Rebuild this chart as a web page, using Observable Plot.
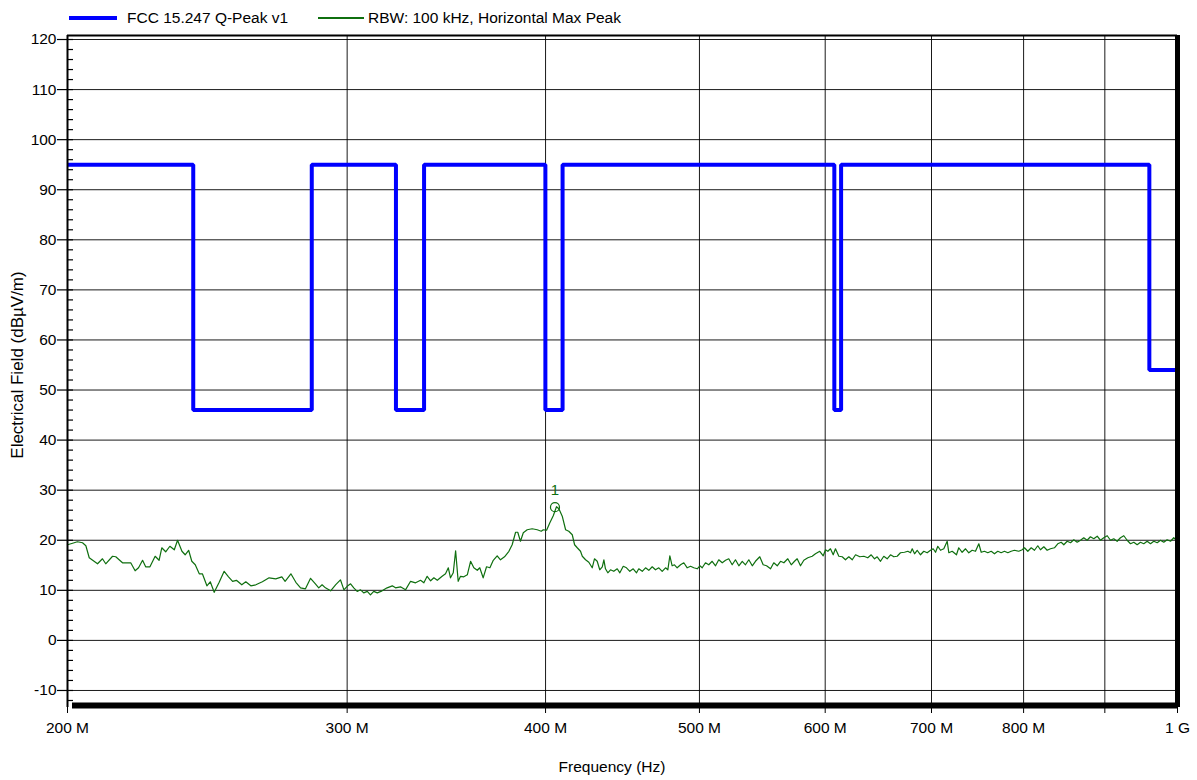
<!DOCTYPE html>
<html>
<head>
<meta charset="utf-8">
<script src="https://cdn.jsdelivr.net/npm/d3@7"></script>
<script src="https://cdn.jsdelivr.net/npm/@observablehq/plot@0.6"></script>
<style>
  body { margin: 0; background: #fff; }
  #wrap { position: relative; width: 1197px; height: 780px; font-family: "Liberation Sans", Arial, sans-serif; color: #000; }
  #chart { position: absolute; left: 0; top: 0; }
  .lg-line { position: absolute; }
  .lg-text { position: absolute; font-size: 15.5px; line-height: 18px; white-space: nowrap; }
  .title { position: absolute; white-space: nowrap; transform: translate(-50%, -50%); }
</style>
</head>
<body>
<div id="wrap">
  <div id="chart"></div>
</div>
<script>
// ---------- data ----------
const legendLabels = ["FCC 15.247 Q-Peak v1", "RBW: 100 kHz, Horizontal Max Peak"];
const xTitle = "Frequency (Hz)";
const yTitle = "Electrical Field (dBµV/m)";

const xTickValues = [200e6, 300e6, 400e6, 500e6, 600e6, 700e6, 800e6, 900e6, 1e9];
const xTickLabels = ["200 M", "300 M", "400 M", "500 M", "600 M", "700 M", "800 M", "", "1 G"];
const yTickValues = [-10, 0, 10, 20, 30, 40, 50, 60, 70, 80, 90, 100, 110, 120];
const yMinorTicks = d3.range(-12, 121, 2);
const xDomain = [200e6, 1e9];
const yDomain = [-13.4, 120.8];

// FCC limit (step after each break, MHz)
const limitFreqMHz = [200, 240, 285, 322, 335.4, 399.9, 410, 608, 614, 960, 1000];
const limitLevel   = [95,  46,  95,  46,  95,    46,    95,  46,  95,  54,  54];

// Measured trace (MHz, dBµV/m)
const traceFreqMHz = [200,201,202.9,204.4,205.4,206.4,208.9,210.4,211.4,213.5,214.5,216.6,219.2,220.6,221.7,223.0,224.0,225.4,227.1,228.4,229.3,230.6,232.0,233.5,234.6,236.1,237.2,238.4,239.5,240.7,242.1,243.2,244.8,246.0,247.4,249.2,251.0,252.6,254.1,255.5,257.5,259.0,260.9,262.8,265.3,267.9,270.5,272.9,274.2,276.5,278.5,280.4,282.4,284.5,286.5,287.9,289.3,290.7,292.9,295.0,297.1,298.6,300.0,301.5,302.9,304.4,305.9,307.3,308.9,310.3,311.8,313.4,315.6,317.9,320.3,321.8,324.1,326.5,328.9,331.3,333.7,335.3,336.9,338.6,340.2,341.9,344.3,346.0,347.4,348.5,349.9,351.1,352.4,353.6,355.3,357.1,358.8,360.5,362.3,363.6,365.4,367.2,369.0,370.8,372.9,374.7,376.9,379.3,381.1,383.0,384.2,385.7,387.3,389.5,392.3,395.2,397.5,398.7,400.6,402.5,404.5,406.4,407.8,409.8,411.8,413.7,415.8,417.2,418.8,420.8,421.9,423.9,425.9,428.0,429.4,431.1,432.7,434.3,435.3,436.3,437.8,439.5,441.6,443.8,445.5,447.7,449.8,452.0,454.2,456.4,457.9,460.2,462.4,464.6,466.9,469.1,471.4,473.7,476.0,477.6,479.0,480.6,482.2,484.1,486.5,488.8,491.2,493.6,495.9,498.4,500.3,502.0,504.4,506.8,509.3,511.8,514.2,516.8,519.3,521.7,524.3,526.8,529.4,532.0,534.5,537.1,539.8,542.3,545.7,548.4,551.1,554.3,556.9,559.7,562.4,565.1,568.3,571.2,573.9,576.1,578.9,581.7,585.1,588.8,591.6,595.3,598.3,600.3,602.3,604.6,607.0,609.0,612.0,615.0,617.9,620.9,624.0,627.0,630.9,634.6,638.2,641.4,644.5,647.0,650.1,653.2,656.4,659.6,662.8,666.0,669.2,673.1,676.4,679.0,680.7,683.0,685.6,688.9,692.2,695.6,699.0,701.7,704.1,706.4,709.2,712.6,716.1,717.8,721.3,725.8,728.2,731.8,735.4,738.9,742.5,746.1,749.7,752.3,755.9,759.5,763.3,766.9,770.6,774.4,778.1,781.9,785.7,789.5,794.4,798.4,801.0,804.9,808.9,812.7,816.6,819.8,823.8,827.8,831.8,836.6,840.6,844.8,848.0,852.2,856.3,860.4,864.6,868.8,872.9,877.2,881.4,885.7,890.1,894.3,898.6,903.1,907.4,911.7,916.2,920.6,925.1,929.6,934.1,938.6,943.2,947.7,952.3,957.0,961.6,966.2,971.0,975.6,980.3,985.1,989.9,994.6,998.5,1000];
const traceLevel = [19.1,19.3,19.7,19.5,18.9,16.5,15.3,16.3,15.3,16.8,16.7,15.5,15.5,13.9,14.5,16.0,14.7,14.7,16.8,16.0,18.5,17.7,18.8,18.1,20.0,17.8,17.1,18.0,15.8,15.1,13.3,13.3,10.9,11.7,9.6,11.6,13.8,12.7,11.8,12.0,11.1,11.7,10.9,11.1,11.7,12.5,12.3,12.7,11.8,13.3,11.6,10.5,10.3,12.4,11.3,10.5,11.1,10.5,9.9,11.1,12.1,10.1,10.8,11.3,10.5,9.8,10.1,9.5,9.8,9.1,9.8,9.5,9.9,10.5,10.9,10.5,10.7,10.1,11.8,11.5,12.0,11.5,12.8,11.9,12.5,12.0,12.8,13.3,14.5,12.5,13.5,17.9,11.8,12.8,12.7,13.1,15.8,14.5,14.0,14.5,12.5,14.7,14.5,16.0,16.9,16.1,16.7,17.8,19.1,21.6,21.6,19.8,21.5,22.1,22.3,22.1,21.8,22.1,22.0,23.5,24.9,26.7,26.3,24.8,22.1,21.8,21.1,19.1,18.5,17.8,16.8,16.1,15.6,14.5,16.3,15.8,14.1,14.7,16.1,14.3,13.5,14.1,13.8,14.3,13.5,14.8,14.5,13.8,14.3,13.5,14.3,13.8,14.5,14.0,14.7,14.1,14.5,13.8,14.5,14.1,16.9,14.9,15.1,14.5,15.1,15.5,14.5,14.8,14.5,14.3,14.9,14.5,15.5,15.1,15.8,14.9,16.1,15.5,16.0,16.3,15.1,16.1,14.9,15.8,15.1,16.1,14.9,15.8,16.7,15.1,14.9,14.3,15.5,14.9,15.8,15.5,16.3,15.1,15.8,16.3,14.9,16.0,16.5,16.8,17.3,17.8,16.9,18.1,17.8,18.3,17.1,18.3,16.8,16.7,16.1,16.7,16.1,17.1,16.7,16.8,16.5,17.1,16.3,16.7,15.8,16.8,16.3,17.1,16.7,16.8,17.5,17.6,17.8,17.5,18.3,17.3,18.0,17.1,17.8,17.5,18.0,18.3,17.6,18.8,18.0,18.3,19.8,17.5,17.8,17.1,18.5,17.6,18.3,17.5,18.0,17.8,19.3,17.6,17.8,17.5,17.8,17.3,17.8,17.5,17.8,17.5,17.8,18.0,17.8,18.1,18.5,17.8,18.5,18.0,18.9,18.1,18.7,18.0,18.3,18.5,19.3,19.6,19.1,19.8,19.5,20.1,19.6,20.0,20.5,20.0,20.7,20.3,20.8,20.0,20.5,20.9,20.0,20.3,19.8,20.5,20.9,20.0,19.3,19.6,19.1,19.6,19.3,19.8,19.3,19.8,19.5,20.0,19.6,20.1,19.8,20.5,20.0,20.0];

// Peak marker
const markerFreqMHz = [405.5];
const markerLevel = [26.6];
const markerLabel = ["1"];

// ---------- styles ----------
const blue = "#0000ff";
const green = "#0f6f0f";
const fontFamily = "'Liberation Sans', Arial, sans-serif";

// ---------- build tables ----------
const trace = traceFreqMHz.map((f, i) => ({f: f * 1e6, v: traceLevel[i]}));
const limit = limitFreqMHz.map((f, i) => ({f: f * 1e6, v: limitLevel[i]}));
const marker = markerFreqMHz.map((f, i) => ({f: f * 1e6, v: markerLevel[i], t: markerLabel[i]}));
const xLabelOf = new Map(xTickValues.map((v, i) => [v, xTickLabels[i]]));

const chart = Plot.plot({
  width: 1197,
  height: 780,
  marginLeft: 67,
  marginRight: 20,
  marginTop: 35,
  marginBottom: 73,
  style: {fontFamily, fontSize: "15.5px", color: "#000", background: "transparent", overflow: "visible"},
  x: {type: "log", domain: xDomain, axis: null},
  y: {domain: yDomain, axis: null},
  marks: [
    Plot.gridY(yTickValues, {stroke: "#000", strokeOpacity: 0.9, strokeWidth: 1}),
    Plot.gridX(xTickValues, {stroke: "#000", strokeOpacity: 0.9, strokeWidth: 1}),
    Plot.line(trace, {x: "f", y: "v", stroke: green, strokeWidth: 1.2}),
    Plot.line(limit, {x: "f", y: "v", curve: "step-after", stroke: blue, strokeWidth: 4, strokeLinejoin: "miter", strokeLinecap: "butt"}),
    Plot.dot(marker, {x: "f", y: "v", r: 4.5, stroke: green, fill: "none", strokeWidth: 1.2}),
    Plot.text(marker, {x: "f", y: "v", text: "t", dy: -17, fill: green, fontSize: 15}),
    Plot.axisY({ticks: yTickValues, anchor: "left", tickSize: 10, tickPadding: 1, tickFormat: d => String(d), label: null, fontSize: 15.5, strokeWidth: 1.2}),
    Plot.axisY({ticks: yMinorTicks, anchor: "left", tickSize: 6, dx: 6, tickFormat: () => "", label: null, strokeWidth: 1.2}),
    Plot.axisX({ticks: xTickValues, anchor: "bottom", tickSize: 6, tickPadding: 8, tickFormat: d => xLabelOf.get(d) ?? "", label: null, fontSize: 15.5}),
    Plot.ruleY([yDomain[1]], {stroke: "#000", strokeWidth: 2}),
    Plot.ruleX([xDomain[0]], {stroke: "#000", strokeWidth: 2}),
    Plot.ruleX([xDomain[1]], {stroke: "#000", strokeWidth: 5, dy: 0}),
    Plot.ruleY([yDomain[0]], {stroke: "#000", strokeWidth: 6, dy: -2, insetLeft: 5})
  ]
});
document.getElementById("chart").appendChild(chart);

// ---------- legend & titles (HTML text) ----------
const wrap = document.getElementById("wrap");
const legendItems = [
  {label: legendLabels[0], color: blue, thick: 4, lineLeft: 69, lineW: 48, textLeft: 127},
  {label: legendLabels[1], color: green, thick: 1.2, lineLeft: 318, lineW: 46, textLeft: 368}
];
for (const it of legendItems) {
  const ln = document.createElement("div");
  ln.className = "lg-line";
  ln.style.left = it.lineLeft + "px";
  ln.style.width = it.lineW + "px";
  ln.style.top = (18 - it.thick / 2) + "px";
  ln.style.height = it.thick + "px";
  ln.style.background = it.color;
  wrap.appendChild(ln);
  const tx = document.createElement("div");
  tx.className = "lg-text";
  tx.style.left = it.textLeft + "px";
  tx.style.top = "9px";
  tx.textContent = it.label;
  wrap.appendChild(tx);
}
const xt = document.createElement("div");
xt.className = "title";
xt.style.left = "612px";
xt.style.top = "767px";
xt.style.fontSize = "15.5px";
xt.textContent = xTitle;
wrap.appendChild(xt);
const yt = document.createElement("div");
yt.className = "title";
yt.style.left = "18px";
yt.style.top = "365px";
yt.style.fontSize = "17px";
yt.style.transform = "translate(-50%, -50%) rotate(-90deg)";
yt.textContent = yTitle;
wrap.appendChild(yt);
</script>
</body>
</html>
